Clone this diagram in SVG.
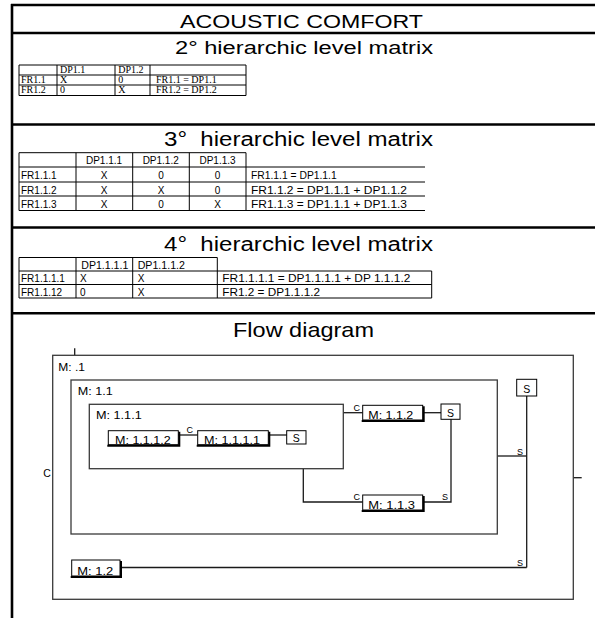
<svg xmlns="http://www.w3.org/2000/svg" width="595" height="618" viewBox="0 0 595 618">
<style>
.frame{stroke:#000;stroke-width:2.6;fill:none}
.grid{stroke:#000;stroke-width:1;fill:none}
.box{stroke:#3a3a3a;stroke-width:1.3;fill:none}
.fl{stroke:#1a1a1a;stroke-width:1.3;fill:none}
.blk{stroke:#000;stroke-width:1;fill:#fff}
.sh{stroke:#000;stroke-width:2;fill:none}
.t{font-family:"Liberation Sans",Arial,sans-serif;fill:#000}
.s{font-family:"Liberation Serif","Times New Roman",serif;fill:#000;font-size:10px}
.title{font-size:20px;white-space:pre}
.tb{font-size:10px}
.fd{font-size:10.5px}
.sm{font-size:9px}
.c{text-anchor:middle}
</style>
<rect width="595" height="618" fill="#fff"/>
<g id="frame">
<line class="frame" x1="12" y1="4" x2="12" y2="618"/>
<line class="frame" x1="11" y1="5" x2="595" y2="5"/>
<line class="frame" x1="11" y1="33" x2="595" y2="33"/>
<line class="frame" x1="11" y1="124.5" x2="595" y2="124.5"/>
<line class="frame" x1="11" y1="227.5" x2="595" y2="227.5"/>
<line class="frame" x1="11" y1="313.3" x2="595" y2="313.3"/>
</g>
<g id="titles">
<text class="t" x="180" y="27.5" font-size="18.5" textLength="243" lengthAdjust="spacingAndGlyphs">ACOUSTIC COMFORT</text>
<text class="t" x="175" y="54" font-size="17.5" textLength="258" lengthAdjust="spacingAndGlyphs">2° hierarchic level matrix</text>
<text class="t title" x="164" y="146" xml:space="preserve" textLength="269" lengthAdjust="spacingAndGlyphs">3°  hierarchic level matrix</text>
<text class="t title" x="164" y="251" xml:space="preserve" textLength="269" lengthAdjust="spacingAndGlyphs">4°  hierarchic level matrix</text>
<text class="t" x="233" y="336.7" font-size="21" textLength="141" lengthAdjust="spacingAndGlyphs">Flow diagram</text>
</g>
<g id="matrix2">
<path class="grid" d="M19 65H246V95.5H19Z M19 75H246 M19 85H246 M57 65V95.5 M115 65V95.5 M150 65V95.5"/>
<text class="s" x="60" y="73.3">DP1.1</text>
<text class="s" x="118.3" y="73.3">DP1.2</text>
<text class="s" x="21" y="83.3">FR1.1</text>
<text class="s" x="60" y="83.3">X</text>
<text class="s" x="118.3" y="83.3">0</text>
<text class="s" x="156" y="83.3">FR1.1 = DP1.1</text>
<text class="s" x="21" y="93.3">FR1.2</text>
<text class="s" x="60" y="93.3">0</text>
<text class="s" x="118.3" y="93.3">X</text>
<text class="s" x="156" y="93.3">FR1.2 = DP1.2</text>
</g>
<g id="matrix3">
<path class="grid" d="M19 152.7H246 M19 167H425 M19 182H425 M19 196H425 M19 210.5H425 M19 152.7V210.5 M76 152.7V210.5 M132.7 152.7V210.5 M189.3 152.7V210.5 M246 152.7V210.5"/>
<text class="t tb c" x="104" y="164">DP1.1.1</text>
<text class="t tb c" x="160.7" y="164">DP1.1.2</text>
<text class="t tb c" x="217.5" y="164">DP1.1.3</text>
<text class="t tb" x="21" y="179">FR1.1.1</text>
<text class="t tb c" x="104" y="179">X</text>
<text class="t tb c" x="161" y="179">0</text>
<text class="t tb c" x="217.5" y="179">0</text>
<text class="t tb" x="251" y="179" textLength="85.7" lengthAdjust="spacingAndGlyphs">FR1.1.1 = DP1.1.1</text>
<text class="t tb" x="21" y="193.5">FR1.1.2</text>
<text class="t tb c" x="104" y="193.5">X</text>
<text class="t tb c" x="161" y="193.5">X</text>
<text class="t tb c" x="217.5" y="193.5">0</text>
<text class="t tb" x="251" y="193.5" textLength="156" lengthAdjust="spacingAndGlyphs">FR1.1.2 = DP1.1.1 + DP1.1.2</text>
<text class="t tb" x="21" y="208">FR1.1.3</text>
<text class="t tb c" x="104" y="208">X</text>
<text class="t tb c" x="161" y="208">0</text>
<text class="t tb c" x="217.5" y="208">X</text>
<text class="t tb" x="251" y="208" textLength="156" lengthAdjust="spacingAndGlyphs">FR1.1.3 = DP1.1.1 + DP1.1.3</text>
</g>
<g id="matrix4">
<path class="grid" d="M19 257.5H217.3 M19 271H431.7 M19 284.5H431.7 M19 298H431.7 M19 257.5V298 M76 257.5V298 M132.7 257.5V298 M217.3 257.5V298 M431.7 271V298"/>
<text class="t tb" x="81.3" y="268.5" textLength="47" lengthAdjust="spacingAndGlyphs">DP1.1.1.1</text>
<text class="t tb" x="137.7" y="268.5" textLength="47.3" lengthAdjust="spacingAndGlyphs">DP1.1.1.2</text>
<text class="t tb" x="21" y="282">FR1.1.1.1</text>
<text class="t tb" x="80" y="282">X</text>
<text class="t tb" x="137.7" y="282">X</text>
<text class="t tb" x="222.3" y="282" textLength="188" lengthAdjust="spacingAndGlyphs">FR1.1.1.1 = DP1.1.1.1 + DP 1.1.1.2</text>
<text class="t tb" x="21" y="295.5">FR1.1.12</text>
<text class="t tb" x="80" y="295.5">0</text>
<text class="t tb" x="137.7" y="295.5">X</text>
<text class="t tb" x="222.3" y="295.5" textLength="97.7" lengthAdjust="spacingAndGlyphs">FR1.2 = DP1.1.1.2</text>
</g>
<g id="connectors">
<line class="fl" x1="74.7" y1="348.3" x2="74.7" y2="355.3"/>
<line class="fl" x1="178.3" y1="435" x2="197.7" y2="435"/>
<line class="fl" x1="268.3" y1="435" x2="286.7" y2="435"/>
<line class="fl" x1="343.3" y1="412.7" x2="362.7" y2="412.7"/>
<line class="fl" x1="422.7" y1="412.7" x2="441" y2="412.7"/>
<polyline class="fl" points="451,419.3 451,502 422.7,502"/>
<polyline class="fl" points="303.3,468.7 303.3,502 362.7,502"/>
<line class="fl" x1="497.3" y1="456" x2="526.7" y2="456"/>
<line class="fl" x1="526.7" y1="396" x2="526.7" y2="567.5"/>
<line class="fl" x1="120" y1="567.5" x2="526.7" y2="567.5"/>
<line class="fl" x1="573.3" y1="477.7" x2="581.7" y2="477.7"/>
<text class="t sm" x="186.5" y="433">C</text>
<text class="t sm" x="353.5" y="410.7">C</text>
<text class="t sm" x="353.5" y="500">C</text>
<text class="t sm" x="442" y="500">S</text>
<text class="t sm" x="517" y="455">S</text>
<text class="t sm" x="517" y="566">S</text>
<text class="t fd" x="43.3" y="477.3">C</text>
</g>
<g id="m_1">
<rect class="box" x="52.7" y="355.3" width="520.6" height="244"/>
<text class="t fd" x="58.3" y="370.7" textLength="26.7" lengthAdjust="spacingAndGlyphs">M: .1</text>
</g>
<g id="m_1_1">
<rect class="box" x="71" y="380" width="426.3" height="154"/>
<text class="t fd" x="77.7" y="395" textLength="35" lengthAdjust="spacingAndGlyphs">M: 1.1</text>
</g>
<g id="m_1_1_1">
<rect class="box" x="89.3" y="404.3" width="254" height="64.4"/>
<text class="t fd" x="96" y="419" textLength="45.7" lengthAdjust="spacingAndGlyphs">M: 1.1.1</text>
</g>
<g id="m_1_1_1_2">
<rect class="blk" x="108.3" y="430.7" width="70" height="14"/>
<polyline class="sh" points="179.3,431.7 179.3,445.7 107.3,445.7"/>
<text class="t fd" x="115" y="443.5" textLength="55.7" lengthAdjust="spacingAndGlyphs">M: 1.1.1.2</text>
</g>
<g id="m_1_1_1_1">
<rect class="blk" x="197.7" y="430.7" width="70.6" height="14"/>
<polyline class="sh" points="269.3,431.7 269.3,445.7 196.7,445.7"/>
<text class="t fd" x="204" y="443.5" textLength="56" lengthAdjust="spacingAndGlyphs">M: 1.1.1.1</text>
</g>
<g id="s_1_1_1">
<rect class="grid" x="286.7" y="430.7" width="19.3" height="13.3"/>
<text class="t fd c" x="296.3" y="442">S</text>
</g>
<g id="m_1_1_2">
<rect class="blk" x="362.7" y="405.3" width="60" height="14.7"/>
<polyline class="sh" points="423.7,406.3 423.7,421 361.7,421"/>
<text class="t fd" x="368.3" y="419" textLength="45" lengthAdjust="spacingAndGlyphs">M: 1.1.2</text>
</g>
<g id="s_1_1_2">
<rect class="grid" x="441" y="404" width="19" height="15.3"/>
<text class="t fd c" x="450.5" y="416.5">S</text>
</g>
<g id="m_1_1_3">
<rect class="blk" x="362.7" y="495" width="60" height="15"/>
<polyline class="sh" points="423.7,496 423.7,511 361.7,511"/>
<text class="t fd" x="368.3" y="508.8" textLength="46.7" lengthAdjust="spacingAndGlyphs">M: 1.1.3</text>
</g>
<g id="s_1">
<rect class="grid" x="516.7" y="379.3" width="20" height="16.7"/>
<text class="t fd c" x="526.7" y="392.5">S</text>
</g>
<g id="m_1_2">
<rect class="blk" x="71.7" y="560" width="48.3" height="16"/>
<polyline class="sh" points="121,561 121,577 70.7,577"/>
<text class="t fd" x="77.3" y="574.5" textLength="36" lengthAdjust="spacingAndGlyphs">M: 1.2</text>
</g>
</svg>
